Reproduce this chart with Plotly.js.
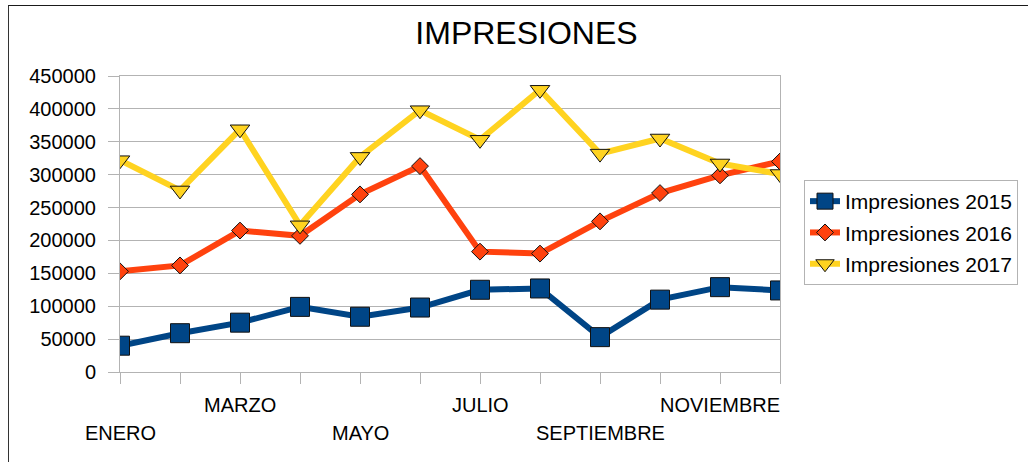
<!DOCTYPE html>
<html>
<head>
<meta charset="utf-8">
<script src="https://cdn.plot.ly/plotly-3.0.1.min.js"></script>
<style>
html,body{margin:0;padding:0;background:#fff;}
#wrap{position:relative;width:1028px;height:462px;overflow:hidden;}
#chart{position:absolute;left:0;top:0;width:1028px;height:462px;}
#frame{position:absolute;left:8px;top:5px;width:1100px;height:500px;border-top:1px solid #1a1a1a;border-left:1px solid #333;pointer-events:none;}
</style>
</head>
<body>
<div id="wrap"><div id="chart"></div><div id="frame"></div></div>
<script>
const months = ["ENERO","FEBRERO","MARZO","ABRIL","MAYO","JUNIO","JULIO","AGOSTO","SEPTIEMBRE","OCTUBRE","NOVIEMBRE","DICIEMBRE"];
const seriesNames = ["Impresiones 2015","Impresiones 2016","Impresiones 2017"];
const imp2015 = [40000,59000,75000,99000,84000,98000,125000,127000,53000,110000,129000,124000];
const imp2016 = [153000,162000,215000,207000,270000,313000,183000,180000,229000,272000,299000,320000];
const imp2017 = [322000,276000,369000,223000,327000,398000,353000,429000,332000,355000,317000,301000];
const yTicks = [0,50000,100000,150000,200000,250000,300000,350000,400000,450000];
const chartTitle = "IMPRESIONES";

const colors = ["#004586","#ff420e","#ffd320"];
const symbols = ["square","diamond","triangle-down"];
const sizes = [19,13,17];
const data = [imp2015,imp2016,imp2017].map((v,i)=>({
  type:"scatter", mode:"lines+markers", x:months, y:v, name:seriesNames[i],
  legendgroup:"g"+i,
  line:{color:colors[i], width:6},
  marker:{symbol:symbols[i], size:sizes[i], color:colors[i], line:{color:"#111", width:1}},
  hoverinfo:"skip"
}));

const fontFam = "Liberation Sans, Arial, sans-serif";
const annotations = months.map((m,i)=>{
  if (i%2!==0) return null;
  const upper = (i%4===2);
  return {xref:"x", yref:"paper", x:m, y: upper ? -33/296 : -61/296,
    text:m, showarrow:false, xanchor:"center", yanchor:"middle",
    font:{family:fontFam, size:20, color:"#000"}};
}).filter(a=>a);

const layout = {
  width:1028, height:462,
  margin:{l:120, r:248, t:76, b:90},
  paper_bgcolor:"#fff", plot_bgcolor:"#fff",
  font:{family:fontFam, size:20, color:"#000"},
  title:{text:chartTitle, xref:"container", yref:"container", x:526.5/1028, xanchor:"center",
    y:1-33/462, yanchor:"middle", font:{family:fontFam, size:32, color:"#000"}},
  xaxis:{type:"category", categoryarray:months, range:[0,11], showgrid:false,
    showline:true, linecolor:"#b3b3b3", linewidth:1, mirror:true,
    ticks:"outside", ticklen:11, tickcolor:"#b3b3b3", tickwidth:1,
    tickvals:months, showticklabels:false, zeroline:false, fixedrange:true},
  yaxis:{range:[0,450000], tickvals:yTicks, ticktext:yTicks.map(String),
    showgrid:true, gridcolor:"#b3b3b3", gridwidth:1,
    showline:true, linecolor:"#b3b3b3", linewidth:1, mirror:true,
    ticks:"outside", ticklen:11, tickcolor:"#b3b3b3", tickwidth:1,
    ticklabelstandoff:8, zeroline:false, fixedrange:true,
    tickfont:{family:fontFam, size:20, color:"#000"}},
  legend:{xref:"container", yref:"container", x:804/1028, y:1-180/462,
    xanchor:"left", yanchor:"top", bordercolor:"#b3b3b3", borderwidth:1,
    traceorder:"grouped", tracegroupgap:1,
    bgcolor:"#fff", font:{family:fontFam, size:21, color:"#000"}},
  annotations:annotations,
  showlegend:true
};
Plotly.newPlot("chart", data, layout, {displayModeBar:false, staticPlot:true});
</script>
</body>
</html>
